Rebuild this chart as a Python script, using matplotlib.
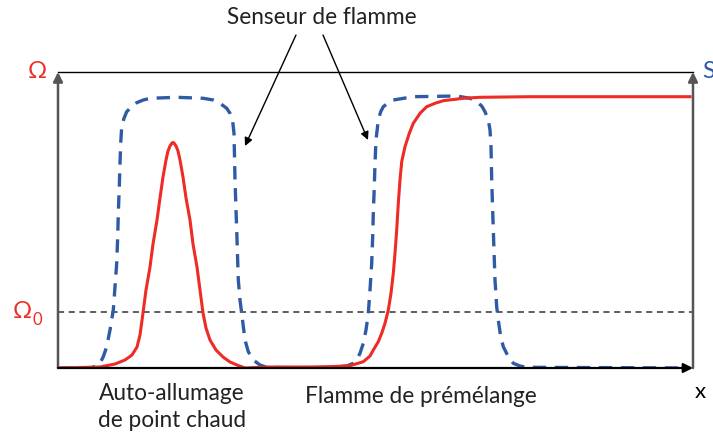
import matplotlib.pyplot as plt

# Schematic: resistance signal (Omega) and flame sensor signal (S) along x.
# Units are arbitrary: x in 0..635, signal in 0..296.
omega_x = [2, 22, 42, 57, 67, 74, 79, 82, 85, 88, 92, 95, 99, 102, 105, 108, 110, 112, 114,
           115, 116, 118, 120, 122, 125, 128, 132, 135, 139, 142, 145, 148, 152, 158, 165,
           172, 179, 187, 210, 250,
           272, 292, 305.3, 312, 315.3, 320.3, 323.7, 327, 330.3, 333, 335.3, 337, 338.7,
           340.3, 342, 343.7, 347, 351.3, 355.3, 362, 368.7, 377, 385.3, 405.3, 422, 472, 632]
omega_y = [0, 0.5, 1, 4, 8, 13, 21, 33, 55, 78, 101, 124, 148, 170, 191, 208, 217, 222, 225,
           225.5, 225, 222, 217, 208, 191, 170, 148, 124, 101, 78, 55, 40, 28, 18, 11,
           6, 3, 0, 1, 1,
           1.3, 2.3, 6.3, 12, 18, 26.3, 34.7, 44.7, 58, 74.7, 94.7, 114.7, 138,
           164.7, 188, 206.3, 221.3, 234.7, 244.7, 254.7, 261.3, 264.7, 267.3, 269.7, 270.7,
           271.3, 271.3]

sensor_x = [2, 32, 38.7, 42, 45.3, 48.7, 52, 55.3, 57, 58.7, 59.7, 60.3, 61.3, 62, 62.7, 63.7,
            66, 68.7, 73.7, 78.7, 85.3, 92, 118.7, 145.3, 155.3, 162, 168.7, 172, 174.7, 176,
            177, 178.7, 180.3, 182, 183.7, 187, 190.3, 195.3, 202, 208.7, 242,
            272, 288.7, 295.3, 298.7, 302, 305.3, 308, 310.3, 312, 313.7, 314.7, 315.3, 316.3,
            317, 318, 320.3, 322.7, 325.3, 330.3, 335.3, 355.3, 398.7, 412, 418.7, 423.7, 427,
            430.3, 432, 433, 433.7, 435.3, 437, 438.7, 440.3, 442.7, 445.3, 450.3, 455.3, 462,
            468.7, 632]
sensor_y = [0, 0, 2, 4.7, 11.3, 21.3, 38, 58, 81, 104.7, 131.3, 154.7, 181.3, 204.7, 224.7,
            241.3, 249.7, 256.3, 261.3, 265.3, 268, 269.7, 270.7, 269.7, 268, 264.7, 259.7,
            254.7, 246.3, 234.7, 188, 138, 88, 68, 54.7, 28, 16.3, 8, 3, 0.7, 0,
            0.7, 2, 4.7, 8, 14.7, 24.7, 38, 54.7, 78, 104.7, 131.3, 154.7, 181.3,
            204.7, 228, 248, 256.3, 261.3, 265.3, 268, 271.3, 272, 269.7, 266.3, 262, 256.3,
            248, 238, 221.3, 188, 138, 88, 61.3, 48, 31.3, 21.3, 11.3, 4.7, 2,
            0.7, 0]

omega_0 = 56
x_max, y_max = 635, 296

red = '#ee2b25'
blue = '#2f5aa6'

fig = plt.figure(figsize=(7.13, 4.40), dpi=100)
ax = fig.add_axes([58 / 713, 72 / 440, 635 / 713, 296 / 440])
ax.set_xlim(0, x_max)
ax.set_ylim(0, y_max)
ax.axis('off')

plt.rcParams['font.family'] = ['Lato', 'DejaVu Sans']

# threshold line
ax.axhline(omega_0, color='#333333', linestyle=(0, (4, 3)), linewidth=1.1, zorder=1)

ax.plot(sensor_x, sensor_y, color=blue, linestyle=(0, (4, 2.6)), linewidth=2.4, zorder=2)
ax.plot(omega_x, omega_y, color=red, linewidth=2.2, zorder=3)

# frame: top line, axes with arrows
ax.plot([0, x_max], [y_max, y_max], color='black', linewidth=1.0, clip_on=False)
arrow = dict(arrowstyle='-|>', mutation_scale=14, shrinkA=0, shrinkB=0)
ax.annotate('', xy=(0, y_max), xytext=(0, 0),
            arrowprops=dict(arrow, color='#555555', linewidth=1.8))
ax.annotate('', xy=(x_max, y_max), xytext=(x_max, 0),
            arrowprops=dict(arrow, color='#555555', linewidth=1.8))
ax.annotate('', xy=(x_max, 0), xytext=(0, 0),
            arrowprops=dict(arrow, color='black', linewidth=1.6))

# axis labels
ax.text(-21, y_max, 'Ω', color=red, fontsize=17, ha='center', va='center', clip_on=False)
ax.text(651, y_max, 'S', color=blue, fontsize=17, ha='center', va='center', clip_on=False)
ax.text(-36, omega_0, 'Ω', color=red, fontsize=17, ha='center', va='center', clip_on=False)
ax.text(-21, omega_0 - 8, '0', color=red, fontsize=12, ha='center', va='center', clip_on=False)
ax.text(642, -24, 'x', color='black', fontsize=16, ha='center', va='center', clip_on=False)

# annotations
ax.text(264, 351, 'Senseur de flamme', fontsize=16.3, ha='center', va='center',
        color='#222222')
ax.annotate('', xy=(187, 222), xytext=(238, 333),
            arrowprops=dict(arrowstyle='-|>', mutation_scale=12, color='black', linewidth=1.0,
                            shrinkA=0, shrinkB=0))
ax.annotate('', xy=(310, 228), xytext=(265, 333),
            arrowprops=dict(arrowstyle='-|>', mutation_scale=12, color='black', linewidth=1.0,
                            shrinkA=0, shrinkB=0))

ax.text(114, -39, 'Auto-allumage\nde point chaud', fontsize=16.3, ha='center', va='center',
        linespacing=1.3, color='#222222')
ax.text(363, -28, 'Flamme de prémélange', fontsize=16.3, ha='center', va='center',
        color='#222222')

fig.savefig('out.png', dpi=100)
